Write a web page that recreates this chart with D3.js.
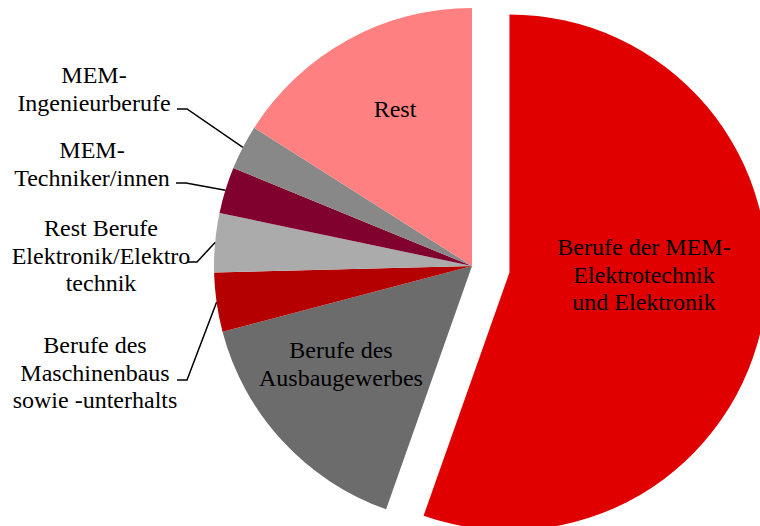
<!DOCTYPE html>
<html>
<head>
<meta charset="utf-8">
<script src="https://cdn.jsdelivr.net/npm/d3@7/dist/d3.min.js"></script>
</head>
<body style="margin:0">
<svg id="chart" width="760" height="526" font-family="Liberation Serif" style="font-family:'Liberation Serif';display:block"></svg>
<script>
// categories, clockwise from 12 o'clock
var categories = [
    "Berufe der MEM-\nElektrotechnik\nund Elektronik",
    "Berufe des\nAusbaugewerbes",
    "Berufe des\nMaschinenbaus\nsowie -unterhalts",
    "Rest Berufe\nElektronik/Elektro\ntechnik",
    "MEM-\nTechniker/innen",
    "MEM-\nIngenieurberufe",
    "Rest"
];
var shares = [55.4, 15.5, 3.7, 3.7, 2.9, 2.8, 16.0];
var colors = ["#e00000", "#6c6c6c", "#b40000", "#ababab", "#80002e", "#888888", "#ff8080"];

var cx = 472,
    cy = 266,
    radius = 258,
    explode = 38,
    lineGap = 27.5;

// label placement: inside = centred in slice, outside = left column with leader
var labelPos = [
    { x: 644, y: 247, inside: true },
    { x: 341, y: 350, inside: true },
    { x: 95, y: 345, anchorX: 177, anchorY: 380 },
    { x: 101, y: 228, anchorX: 187, anchorY: 262 },
    { x: 92, y: 150, anchorX: 176, anchorY: 183 },
    { x: 94, y: 75, anchorX: 177, anchorY: 109 },
    { x: 395, y: 109, inside: true }
];

var svg = d3.select("#chart");

var pie = d3.pie().sort(null).value(function(d) { return d; });
var arcs = pie(shares);

var arc = d3.arc().innerRadius(0).outerRadius(radius);

var g = svg.append("g").attr("transform", "translate(" + cx + "," + cy + ")");

g.selectAll("path")
    .data(arcs)
    .enter().append("path")
    .attr("d", arc)
    .attr("fill", function(d, i) { return colors[i]; })
    .attr("transform", function(d, i) {
        if (i !== 0) return null;
        var a = (d.startAngle + d.endAngle) / 2;
        return "translate(" + (explode * Math.sin(a)) + "," + (-explode * Math.cos(a)) + ")";
    });

// leader lines for the small slices
arcs.forEach(function(d, i) {
    var p = labelPos[i];
    if (p.inside) return;
    var a = (d.startAngle + d.endAngle) / 2;
    var ex = cx + radius * Math.sin(a),
        ey = cy - radius * Math.cos(a);
    svg.append("polyline")
        .attr("points", [[p.anchorX, p.anchorY], [p.anchorX + 10, p.anchorY], [ex, ey]].join(" "))
        .attr("fill", "none")
        .attr("stroke", "#000")
        .attr("stroke-width", 1.5);
});

// one text element per line
categories.forEach(function(name, i) {
    var p = labelPos[i];
    svg.selectAll(null)
        .data(name.split("\n"))
        .enter().append("text")
        .attr("x", p.x)
        .attr("y", function(d, j) { return p.y + 8 + j * lineGap; })
        .attr("text-anchor", "middle")
        .attr("font-family", "Liberation Serif")
        .attr("font-size", 24)
        .attr("fill", "#000")
        .text(function(d) { return d; });
});
</script>
</body>
</html>
